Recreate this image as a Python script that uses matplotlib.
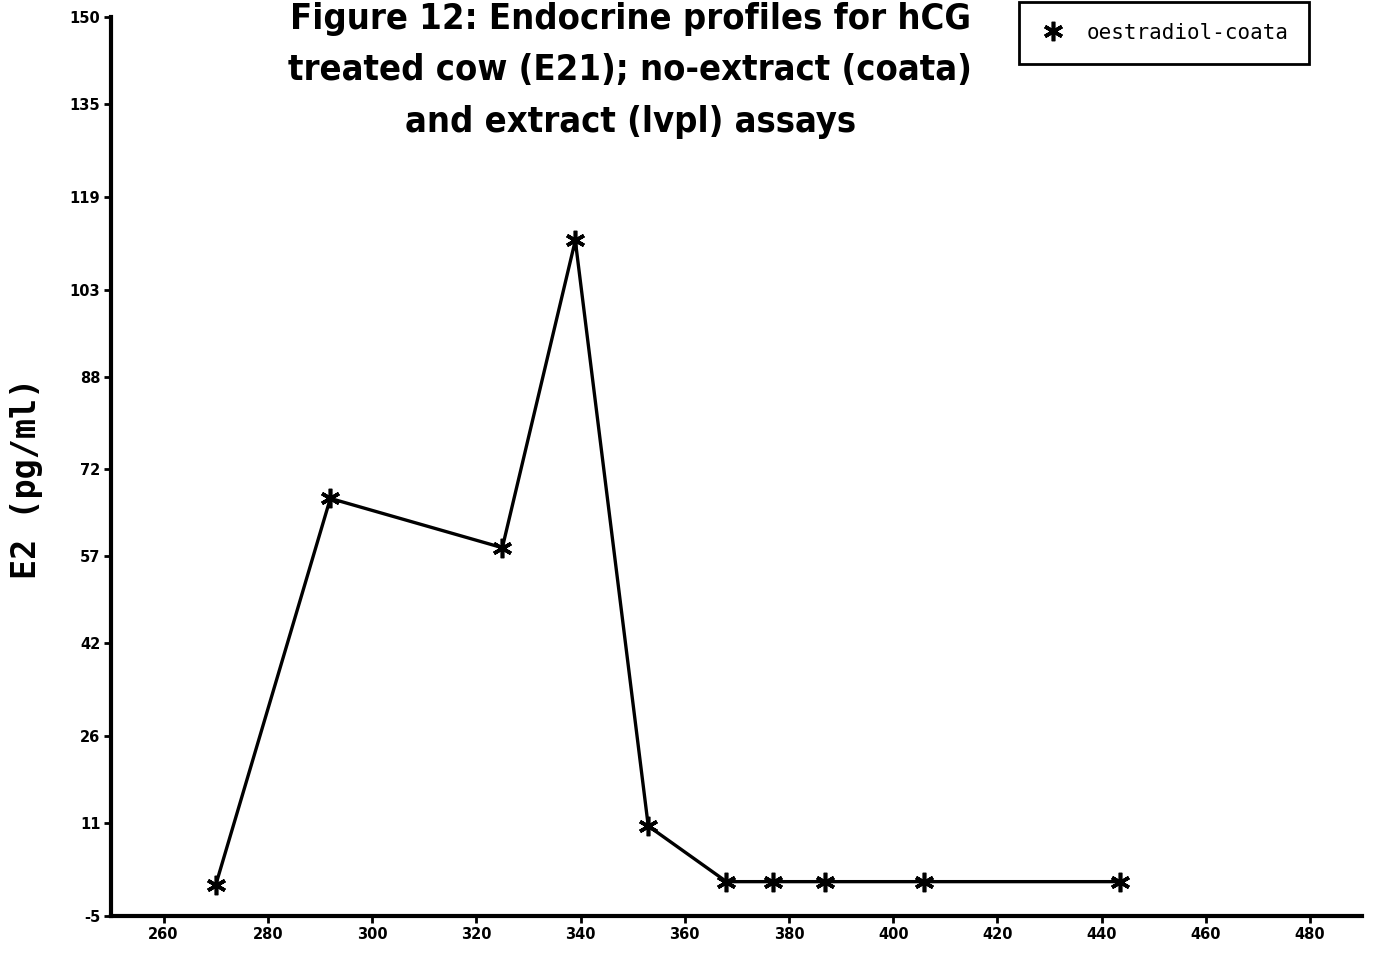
import matplotlib
matplotlib.use('Agg')
import matplotlib.pyplot as plt

# oestradiol profile, no-extract assay
day = [270, 292, 325, 339, 353, 368, 377, 387, 406, 443.5]
e2 = [0.3, 67, 58.5, 111.5, 10.5, 0.9, 0.9, 0.9, 0.9, 0.9]
series_label = 'oestradiol-coata'

y_ticks = [-5, 11, 26, 42, 57, 72, 88, 103, 119, 135, 150]
x_ticks = [260, 280, 300, 320, 340, 360, 380, 400, 420, 440, 460, 480]

title = ('Figure 12: Endocrine profiles for hCG\n'
         'treated cow (E21); no-extract (coata)\n'
         'and extract (lvpl) assays')

fig = plt.figure(figsize=(13.76, 9.57), dpi=100)
ax = fig.add_axes([0.081, 0.043, 0.909, 0.939])

ax.plot(day, e2, color='black', lw=2.4, marker=(6, 2, 0), markersize=14,
        markeredgewidth=2.6, label=series_label)

ax.set_xlim(250, 490)
ax.set_ylim(-5, 150)
ax.set_xticks(x_ticks)
ax.set_yticks(y_ticks)
ax.set_xticklabels([str(v) for v in x_ticks], fontsize=10.5, fontweight='bold')
ax.set_yticklabels([str(v) for v in y_ticks], fontsize=10.5, fontweight='bold')
ax.tick_params(axis='both', width=2, length=5, pad=3, color='black')

for side in ['top', 'right']:
    ax.spines[side].set_visible(False)
for side in ['left', 'bottom']:
    ax.spines[side].set_linewidth(3)

# y label drawn on the figure so it sits close to the left edge
fig.text(0.0196, 0.5, 'E2 (pg/ml)', rotation=90, ha='center', va='center',
         fontsize=24, fontweight='bold', family='DejaVu Sans Mono')

fig.text(0.458, 0.998, title, ha='center', va='top', multialignment='center',
         fontsize=26, fontweight='bold', linespacing=1.65,
         family='DejaVu Sans', fontstretch='condensed')

leg = ax.legend(loc='upper right', bbox_to_anchor=(0.9513, 0.998),
                bbox_transform=fig.transFigure, fancybox=False,
                prop={'family': 'DejaVu Sans Mono', 'size': 15},
                handlelength=1.2, borderpad=1.0, handletextpad=1.0,
                borderaxespad=0, frameon=True)
leg.get_frame().set_edgecolor('black')
leg.get_frame().set_linewidth(2)
leg.get_frame().set_alpha(1)
for line in leg.get_lines():
    line.set_linestyle('none')

fig.savefig('out.png', dpi=100)
